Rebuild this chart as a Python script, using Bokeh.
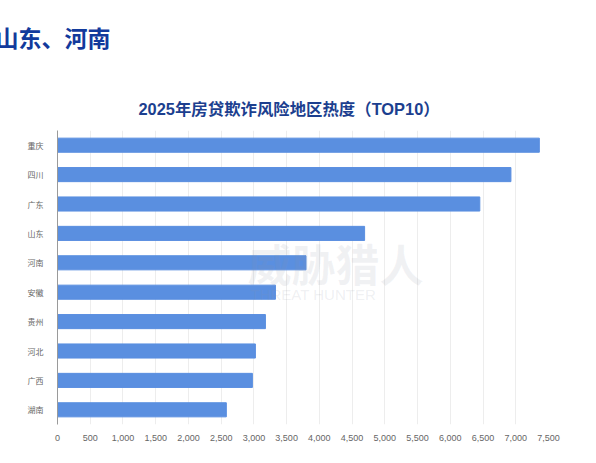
from bokeh.plotting import figure
from bokeh.models import Label, Title, FactorRange, FixedTicker, NumeralTickFormatter
from bokeh.embed import file_html
from bokeh.resources import INLINE

regions = ["重庆", "四川", "广东", "山东", "河南", "安徽", "贵州", "河北", "广西", "湖南"]
heat = [7360, 6926, 6451, 4691, 3796, 3329, 3176, 3023, 2977, 2579]
ticks = list(range(0, 8000, 500))
heading = "山东、河南"
chart_title = "2025年房贷欺诈风险地区热度（TOP10）"
wm_cn = "威胁猎人"
wm_en = "THREAT HUNTER"

W, H = 596, 463
CJK = "'Liberation Sans', 'Noto Sans CJK SC'"

p = figure(width=W, height=H, output_backend="svg", toolbar_location=None,
           x_range=(0, 7500), y_range=FactorRange(factors=regions[::-1], range_padding=0),
           min_border_left=57, min_border_right=48, min_border_top=130, min_border_bottom=39)
p.outline_line_color = None
p.hbar(y=regions, right=heat, height=0.48, color="#5a8fe0")

p.ygrid.grid_line_color = None
p.xgrid.grid_line_color = "#ededed"
p.xgrid.grid_line_width = 1
p.xaxis.ticker = FixedTicker(ticks=ticks)
p.xaxis.formatter = NumeralTickFormatter(format="0,0")
p.xaxis.axis_line_color = None
p.xaxis.major_tick_line_color = None
p.xaxis.minor_tick_line_color = None
p.xaxis.major_label_text_font_size = "9px"
p.xaxis.major_label_text_color = "#666666"
p.xaxis.major_label_text_font = CJK
p.xaxis.major_label_standoff = 4
p.yaxis.axis_line_color = "#9a9a9a"
p.yaxis.major_tick_line_color = None
p.yaxis.minor_tick_line_color = None
p.yaxis.major_label_text_font_size = "8px"
p.yaxis.major_label_text_color = "#666666"
p.yaxis.major_label_text_font = "Noto Sans CJK SC"
p.yaxis.major_label_standoff = 8

p.add_layout(Title(text=chart_title, align="left", offset=81, standoff=26,
                   text_font=CJK, text_font_size="16.4px", text_font_style="bold",
                   text_color="#1c3f8f"), "above")
# blank title: spacer that lifts the heading without widening the top panel
p.add_layout(Title(text=" ", standoff=11, text_font=CJK, text_font_size="16.4px"), "above")
p.add_layout(Title(text=heading, align="left", offset=-62, standoff=0,
                   text_font="Noto Sans CJK SC", text_font_size="23px", text_font_style="bold",
                   text_color="#123a9c"), "above")
p.add_layout(Label(x=247, y=262, x_units="canvas", y_units="canvas", text=wm_cn,
                   text_font="Noto Sans CJK SC", text_font_size="44px", text_font_style="bold",
                   text_color="#8a93a3", text_alpha=0.12, text_baseline="middle"))
p.add_layout(Label(x=250, y=294, x_units="canvas", y_units="canvas", text=wm_en,
                   text_font=CJK, text_font_size="15px", text_font_style="normal",
                   text_color="#8a93a3", text_alpha=0.14, text_baseline="middle"))

open("out.html", "w").write(file_html(p, INLINE))
